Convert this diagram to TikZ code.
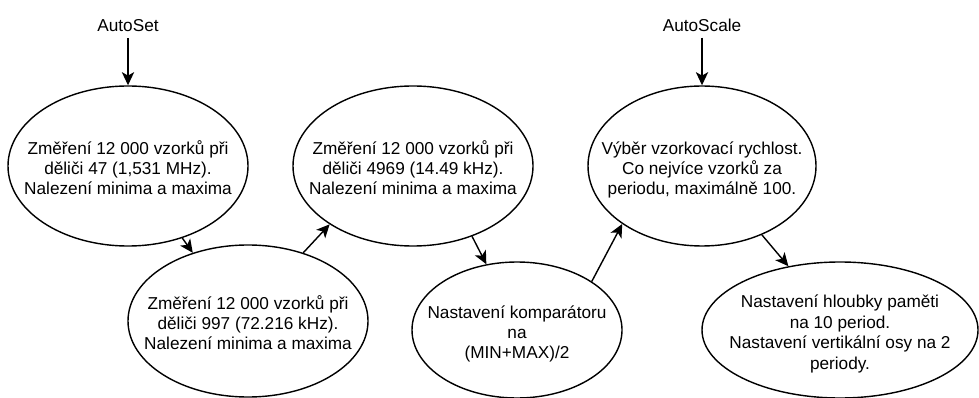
\documentclass[tikz,border=0pt]{standalone}
\usepackage{fontspec}
\setmainfont{Liberation Sans}
\usetikzlibrary{shapes.geometric,arrows.meta}

% text inside an oval, taking no room of its own
\newcommand{\ovaltext}[1]{\makebox[0pt]{\smash{\raisebox{-5pt}{\begin{tabular}{@{}c@{}}#1\end{tabular}}}}}

\begin{document}
\begin{tikzpicture}[x=0.02cm, y=-0.02cm,
    every node/.style={font=\fontsize{9.8}{11.6}\selectfont},
    stage/.style={ellipse, draw, line width=0.8pt, inner sep=0pt},
    flow/.style={-{Stealth[length=7.5pt, width=7pt, inset=2pt]}, line width=0.8pt}]
  \useasboundingbox (0,0) rectangle (979,398);

  \node (autoset) at (128,26) {AutoSet};
  \node (autoscale) at (702,25) {AutoScale};

  \node[stage, minimum width=240*0.02cm, minimum height=160*0.02cm] (div47) at (128,166)
    {\ovaltext{Změření 12 000 vzorků při\\děliči 47 (1,531 MHz).\\Nalezení minima a maxima}};
  \node[stage, minimum width=240*0.02cm, minimum height=152*0.02cm] (div997) at (248,321)
    {\ovaltext{Změření 12 000 vzorků při\\děliči 997 (72.216 kHz).\\Nalezení minima a maxima}};
  \node[stage, minimum width=240*0.02cm, minimum height=160*0.02cm] (div4969) at (413,166)
    {\ovaltext{Změření 12 000 vzorků při\\děliči 4969 (14.49 kHz).\\Nalezení minima a maxima}};
  \node[stage, minimum width=210*0.02cm, minimum height=136*0.02cm] (comp) at (517,330)
    {\ovaltext{Nastavení komparátoru\\na\\(MIN+MAX)/2}};
  \node[stage, minimum width=228*0.02cm, minimum height=160*0.02cm] (rate) at (702,166)
    {\ovaltext{Výběr vzorkovací rychlost.\\Co nejvíce vzorků za\\periodu, maximálně 100.}};
  \node[stage, minimum width=276*0.02cm, minimum height=136*0.02cm] (depth) at (840,330)
    {\ovaltext{Nastavení hloubky paměti\\na 10 period.\\Nastavení vertikální osy na 2\\periody.}};

  \draw[flow] (autoset) -- (div47.north);
  \draw[flow] (autoscale) -- (rate.north);
  \draw[flow] (div47.-53) -- (div997.129);
  \draw[flow] (div997.51) -- (div4969.-145);
  \draw[flow] (div4969.-50) -- (comp.115);
  \draw[flow] (comp.33) -- (rate.-144);
  \draw[flow] (rate.-49) -- (depth.129);
\end{tikzpicture}
\end{document}
